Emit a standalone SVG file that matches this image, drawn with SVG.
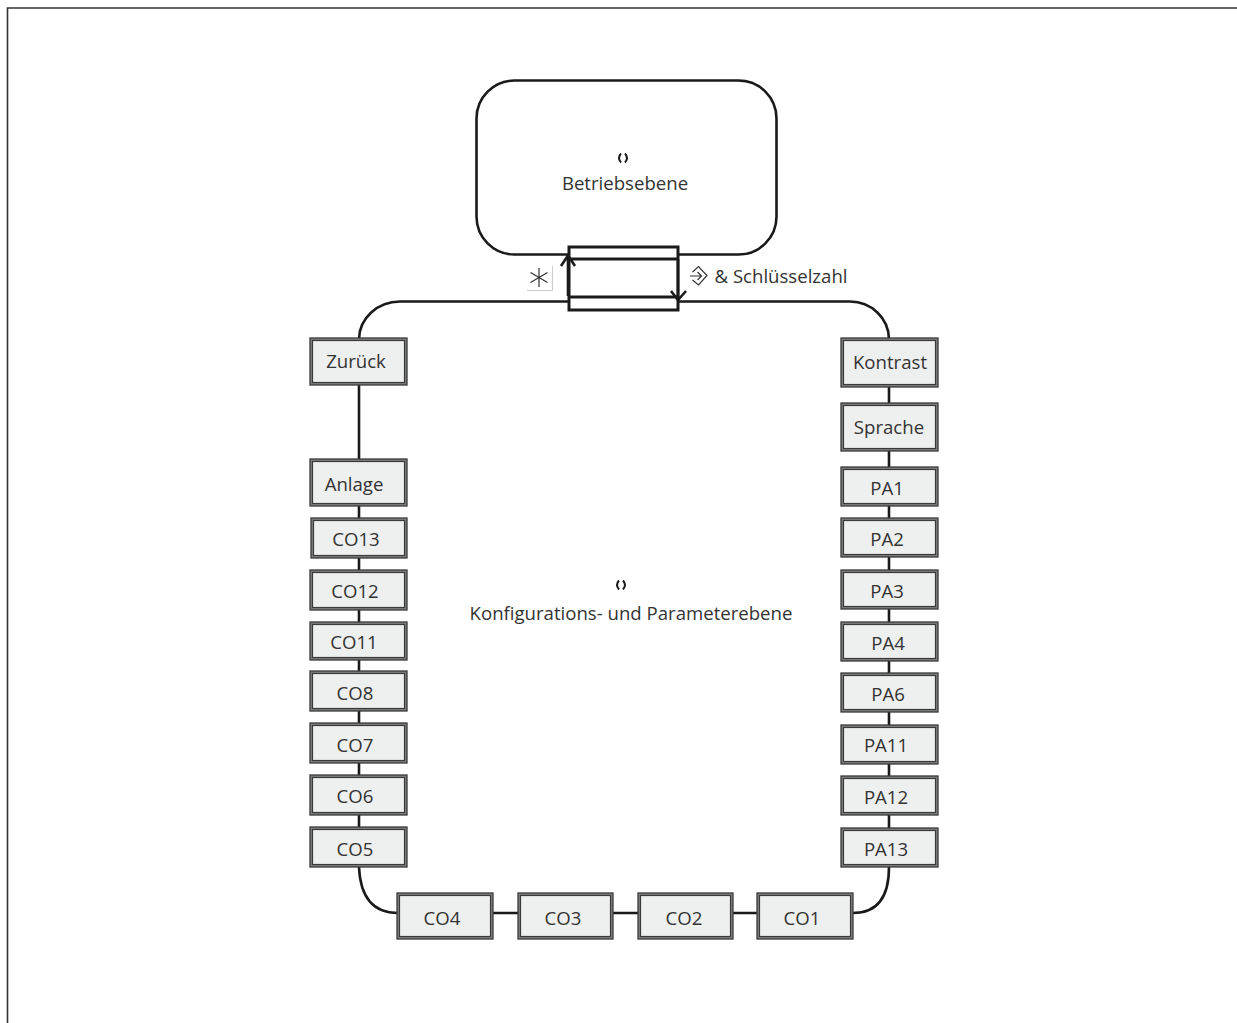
<svg xmlns="http://www.w3.org/2000/svg" width="1237" height="1023" viewBox="0 0 1237 1023">
<style>
text{font-family:"Open Sans","Noto Sans",sans-serif;font-size:18.600px;fill:#333;text-anchor:middle}
.o{fill:#808080;stroke:#3a3a3a;stroke-width:1.300}
.i{fill:#eeefef;stroke:#3a3a3a;stroke-width:1.200}
.c{fill:none;stroke:#1a1a1a;stroke-width:2.600}
.k{fill:#fff;stroke:#1a1a1a;stroke-width:3}
.l{fill:none;stroke:#1a1a1a;stroke-width:2}
.t{fill:none;stroke:#333;stroke-width:1.200}
</style>
<rect width="1237" height="1023" fill="#fff"/>
<path d="M7.500 1023V8H1237" fill="none" stroke="#333" stroke-width="1.600"/>
<g id="Betriebsebene">
<rect x="476.500" y="80.500" width="300" height="174" rx="38" fill="#fff" stroke="#1a1a1a" stroke-width="2.600"/>
<path class="l" d="M621 153.500Q617 158 621 162.500M625 153.500Q629 158 625 162.500"/>
<text x="625" y="190">Betriebsebene</text>
</g>
<g id="transition">
<rect class="k" x="569" y="247" width="109" height="63"/>
<path d="M569 259H678M569 297H678" stroke="#1a1a1a" stroke-width="3" fill="none"/>
</g>
<g id="connectors">
<path class="c" d="M569 301.500H400A41 38 0 0 0 359 339V867Q361 913 398 913H853Q889 913 889 867V339A39 38 0 0 0 850 301.500H679"/>
<path class="c" d="M568 296V256M561 266L568 255.500L575 266"/>
<path class="c" d="M678 259V299M671 291L678 300L686 291"/>
</g>
<g id="star">
<path d="M527 290.500H552.500V266" fill="none" stroke="#ccc"/>
<path d="M539 268V287M530.500 272.500L547.500 282.500M547.500 272.500L530.500 282.500" stroke="#333" stroke-width="1.200" fill="none"/>
</g>
<g id="Schluesselzahl">
<path class="t" d="M692.500 272L698.500 266.500L707 275.500L698.500 285L692.500 280"/>
<path class="t" d="M690 276H701M697.500 272L701.500 276L697.500 280"/>
<text x="781" y="283">&amp; Schlüsselzahl</text>
</g>
<g id="Konfig">
<path class="l" d="M619 580.500Q615 585 619 589.500M623 580.500Q627 585 623 589.500"/>
<text x="631" y="620">Konfigurations- und Parameterebene</text>
</g>
<g id="Zurueck"><rect class="o" x="310" y="338" width="97" height="47"/><rect class="i" x="312.500" y="340.500" width="92" height="42"/><text x="356" y="367.500">Zurück</text></g>
<g id="Anlage"><rect class="o" x="310" y="459" width="97" height="47"/><rect class="i" x="312.500" y="461.500" width="92" height="42"/><text x="354" y="490.500">Anlage</text></g>
<g id="CO13"><rect class="o" x="311" y="518" width="96" height="40"/><rect class="i" x="313.500" y="520.500" width="91" height="35"/><text x="356" y="545.500">CO13</text></g>
<g id="CO12"><rect class="o" x="310" y="570" width="97" height="40"/><rect class="i" x="312.500" y="572.500" width="92" height="35"/><text x="355" y="597.500">CO12</text></g>
<g id="CO11"><rect class="o" x="310" y="622" width="97" height="38"/><rect class="i" x="312.500" y="624.500" width="92" height="33"/><text x="354" y="648.500">CO11</text></g>
<g id="CO8"><rect class="o" x="310" y="671" width="97" height="40"/><rect class="i" x="312.500" y="673.500" width="92" height="35"/><text x="355" y="699.500">CO8</text></g>
<g id="CO7"><rect class="o" x="310" y="723" width="97" height="40"/><rect class="i" x="312.500" y="725.500" width="92" height="35"/><text x="355" y="751.500">CO7</text></g>
<g id="CO6"><rect class="o" x="310" y="775" width="97" height="40"/><rect class="i" x="312.500" y="777.500" width="92" height="35"/><text x="355" y="802.500">CO6</text></g>
<g id="CO5"><rect class="o" x="310" y="827" width="97" height="40"/><rect class="i" x="312.500" y="829.500" width="92" height="35"/><text x="355" y="855.500">CO5</text></g>
<g id="CO4"><rect class="o" x="397" y="893" width="96" height="46"/><rect class="i" x="399.500" y="895.500" width="91" height="41"/><text x="442" y="924.500">CO4</text></g>
<g id="CO3"><rect class="o" x="518" y="893" width="95" height="46"/><rect class="i" x="520.500" y="895.500" width="90" height="41"/><text x="563" y="924.500">CO3</text></g>
<g id="CO2"><rect class="o" x="638" y="893" width="95" height="46"/><rect class="i" x="640.500" y="895.500" width="90" height="41"/><text x="684" y="924.500">CO2</text></g>
<g id="CO1"><rect class="o" x="757" y="893" width="96" height="46"/><rect class="i" x="759.500" y="895.500" width="91" height="41"/><text x="802" y="924.500">CO1</text></g>
<g id="Kontrast"><rect class="o" x="841" y="338" width="97" height="49"/><rect class="i" x="843.500" y="340.500" width="92" height="44"/><text x="890" y="368.500">Kontrast</text></g>
<g id="Sprache"><rect class="o" x="841" y="403" width="97" height="48"/><rect class="i" x="843.500" y="405.500" width="92" height="43"/><text x="889" y="433.500">Sprache</text></g>
<g id="PA1"><rect class="o" x="841" y="467" width="97" height="39"/><rect class="i" x="843.500" y="469.500" width="92" height="34"/><text x="887" y="494.500">PA1</text></g>
<g id="PA2"><rect class="o" x="841" y="518" width="97" height="39"/><rect class="i" x="843.500" y="520.500" width="92" height="34"/><text x="887" y="545.500">PA2</text></g>
<g id="PA3"><rect class="o" x="841" y="570" width="97" height="39"/><rect class="i" x="843.500" y="572.500" width="92" height="34"/><text x="887" y="597.500">PA3</text></g>
<g id="PA4"><rect class="o" x="841" y="622" width="97" height="39"/><rect class="i" x="843.500" y="624.500" width="92" height="34"/><text x="888" y="649.500">PA4</text></g>
<g id="PA6"><rect class="o" x="841" y="673" width="97" height="39"/><rect class="i" x="843.500" y="675.500" width="92" height="34"/><text x="888" y="700.500">PA6</text></g>
<g id="PA11"><rect class="o" x="841" y="725" width="97" height="39"/><rect class="i" x="843.500" y="727.500" width="92" height="34"/><text x="886" y="751.500">PA11</text></g>
<g id="PA12"><rect class="o" x="841" y="776" width="97" height="39"/><rect class="i" x="843.500" y="778.500" width="92" height="34"/><text x="886" y="803.500">PA12</text></g>
<g id="PA13"><rect class="o" x="841" y="828" width="97" height="39"/><rect class="i" x="843.500" y="830.500" width="92" height="34"/><text x="886" y="855.500">PA13</text></g>
</svg>
